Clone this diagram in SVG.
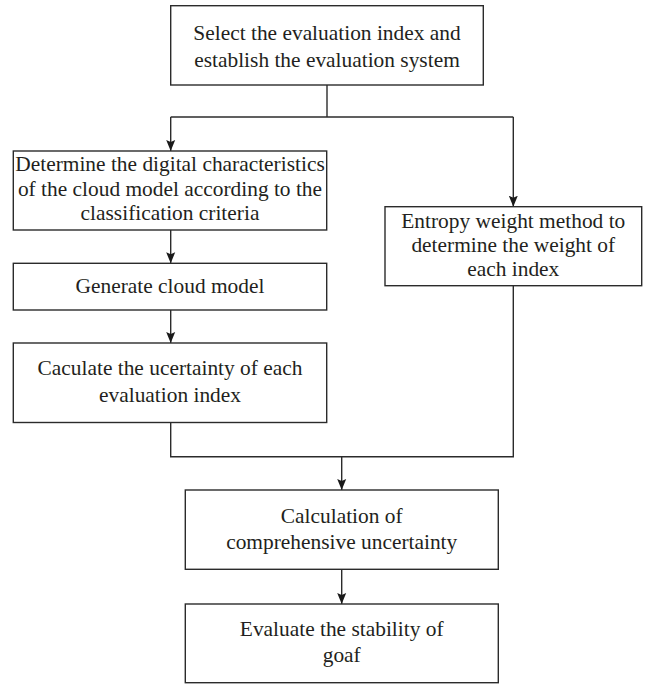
<svg xmlns="http://www.w3.org/2000/svg" width="646" height="684" viewBox="0 0 646 684">
<style>
.box{fill:#fff;stroke:#2b2b2b;stroke-width:1.4}
.t{font-family:"Liberation Serif","Times New Roman",serif;font-size:21.4px;fill:#231f20;text-anchor:middle}
.c{fill:none;stroke:#2b2b2b;stroke-width:1.4}
</style>
<defs>
<marker id="a" markerUnits="userSpaceOnUse" markerWidth="12" markerHeight="10" refX="11" refY="5" orient="auto" viewBox="0 0 12 10">
<path d="M0,0.5 L11,5 L0,9.5 L2,5 Z" fill="#1a1a1a"/>
</marker>
</defs>
<rect width="646" height="684" fill="#fff"/>
<g id="connectors">
<path class="c" d="M327,85 V117"/>
<path class="c" d="M170.7,117 H513.3"/>
<path class="c" d="M170.7,117 V151" marker-end="url(#a)"/>
<path class="c" d="M513.3,117 V206.7" marker-end="url(#a)"/>
<path class="c" d="M170.7,230 V263.3" marker-end="url(#a)"/>
<path class="c" d="M170.7,310 V343" marker-end="url(#a)"/>
<path class="c" d="M170.7,422.5 V456.7 H513.3 V285.7"/>
<path class="c" d="M341.7,456.7 V490" marker-end="url(#a)"/>
<path class="c" d="M341.7,569.3 V604" marker-end="url(#a)"/>
</g>
<g id="n1">
<rect class="box" x="170.7" y="5.7" width="312.6" height="79.3"/>
<text class="t" x="327" y="40">Select the evaluation index and</text>
<text class="t" x="327" y="67">establish the evaluation system</text>
</g>
<g id="n2">
<rect class="box" x="13.3" y="151" width="313.4" height="79"/>
<text class="t" x="170" y="171">Determine the digital characteristics</text>
<text class="t" x="170" y="195.5">of the cloud model according to the</text>
<text class="t" x="170" y="220">classification criteria</text>
</g>
<g id="n3">
<rect class="box" x="385" y="206.7" width="256.7" height="79"/>
<text class="t" x="513.3" y="227.5">Entropy weight method to</text>
<text class="t" x="513.3" y="251.5">determine the weight of</text>
<text class="t" x="513.3" y="275.5">each index</text>
</g>
<g id="n4">
<rect class="box" x="13.3" y="263.3" width="313.4" height="46.7"/>
<text class="t" x="170" y="292.5">Generate cloud model</text>
</g>
<g id="n5">
<rect class="box" x="13.3" y="343" width="313.4" height="79.5"/>
<text class="t" x="170" y="374.5">Caculate the ucertainty of each</text>
<text class="t" x="170" y="401.5">evaluation index</text>
</g>
<g id="n6">
<rect class="box" x="185.3" y="490" width="313" height="79.3"/>
<text class="t" x="341.7" y="522.5">Calculation of</text>
<text class="t" x="341.7" y="548.5">comprehensive uncertainty</text>
</g>
<g id="n7">
<rect class="box" x="185.3" y="604" width="313" height="78.7"/>
<text class="t" x="341.7" y="635.5">Evaluate the stability of</text>
<text class="t" x="341.7" y="662">goaf</text>
</g>
</svg>
